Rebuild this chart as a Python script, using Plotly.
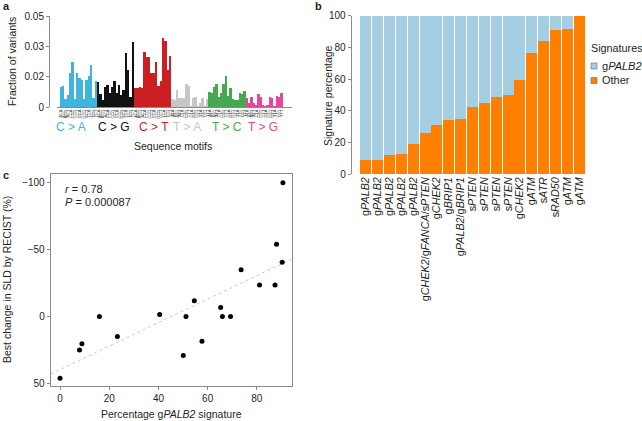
import numpy as np
import plotly.graph_objects as go

W, H = 642, 421
def px(x): return x / W
def py(y): return 1 - y / H

# ---------------- Panel a data ----------------
mut_types = ["C > A", "C > G", "C > T", "T > A", "T > C", "T > G"]
mut_colors = ["#3fb4de", "#111111", "#cc1f24", "#c6c6c6", "#45a952", "#e7469b"]
ref_bases = ["C", "C", "C", "T", "T", "T"]
bases = ["A", "C", "G", "T"]
vals_CA = [0.0108, 0.0117, 0.0042, 0.0068, 0.0189, 0.0250, 0.0043, 0.0185,
           0.0160, 0.0146, 0.0046, 0.0151, 0.0171, 0.0231, 0.0047, 0.0143]
vals_CG = [0.0137, 0.0071, 0.0038, 0.0108, 0.0119, 0.0075, 0.0108, 0.0145,
           0.0075, 0.0119, 0.0064, 0.0093, 0.0296, 0.0203, 0.0053, 0.0355]
vals_CT = [0.0106, 0.0106, 0.0108, 0.0103, 0.0300, 0.0277, 0.0277, 0.0185,
           0.0185, 0.0249, 0.0115, 0.0143, 0.0377, 0.0363, 0.0203, 0.0280]
vals_TA = [0.0044, 0.0038, 0.0092, 0.0047, 0.0048, 0.0047, 0.0129, 0.0118,
           0.0004, 0.0049, 0.0054, 0.0004, 0.0024, 0.0049, 0.0004, 0.0042]
vals_TC = [0.0084, 0.0079, 0.0110, 0.0124, 0.0056, 0.0078, 0.0128, 0.0168,
           0.0060, 0.0106, 0.0046, 0.0041, 0.0039, 0.0078, 0.0073, 0.0089]
vals_TG = [0.0048, 0.0024, 0.0053, 0.0020, 0.0007, 0.0071, 0.0053, 0.0013,
           0.0002, 0.0011, 0.0053, 0.0048, 0.0002, 0.0060, 0.0057, 0.0075]
vals_a = [vals_CA, vals_CG, vals_CT, vals_TA, vals_TC, vals_TG]
ytick_a_text = ["0", "0.02", "0.03", "0.05"]
group_label_px = [71, 114, 154, 187, 227, 263]

# ---------------- Panel b data ----------------
samples_b = ["g<i>PALB2</i>", "g<i>PALB2</i>", "g<i>PALB2</i>", "g<i>PALB2</i>", "g<i>PALB2</i>",
             "g<i>CHEK2</i>/g<i>FANCA</i>/s<i>PTEN</i>", "g<i>CHEK2</i>", "g<i>BRIP1</i>",
             "g<i>PALB2</i>/g<i>BRIP1</i>", "s<i>PTEN</i>", "s<i>PTEN</i>", "s<i>PTEN</i>",
             "s<i>PTEN</i>", "g<i>CHEK2</i>", "g<i>ATM</i>", "s<i>ATR</i>", "s<i>RAD50</i>",
             "g<i>ATM</i>", "g<i>ATM</i>"]
other_pct = [9.0, 9.1, 11.8, 12.4, 18.7, 26.1, 30.7, 33.9, 34.5, 42.1, 45.1, 48.4,
             49.7, 59.4, 76.4, 84.0, 91.2, 91.8, 100.0]
palb2_pct = [100 - v for v in other_pct]
legend_names = ["g<i>PALB2</i>", "Other"]
legend_colors = ["#a6cee3", "#ff7f00"]

# ---------------- Panel c data ----------------
sig_x = [0, 7.9, 8.9, 16.0, 23.3, 40.5, 50.1, 51.2, 54.6, 57.7, 65.3, 66.0, 69.3,
         73.6, 81.1, 87.4, 88.0, 90.3, 90.6]
sld_y = [46.2, 25.0, 20.5, 0, 15.0, -1.5, 29.2, 0, -11.7, 18.5, -6.7, 0, 0,
         -35.0, -23.5, -23.5, -54.0, -40.5, -100.0]

TXT = "#231f20"
AX = "#8a8a8a"
FONT = "Liberation Sans, Arial, sans-serif"

fig = go.Figure()

# Panel a bars
ticktext_a = []
for gi, (vals, col, ref) in enumerate(zip(vals_a, mut_colors, ref_bases)):
    xs = list(range(gi * 16, gi * 16 + 16))
    fig.add_trace(go.Bar(x=xs, y=vals, marker=dict(color=col, line=dict(width=0)),
                         width=0.8, showlegend=False, xaxis="x", yaxis="y"))
    ticktext_a += [f"{a}{ref}{b}" for a in bases for b in bases]

# Panel b stacked bars
xb = list(range(len(samples_b)))
fig.add_trace(go.Bar(x=xb, y=other_pct, marker=dict(color=legend_colors[1], line=dict(width=0)),
                     width=0.93, showlegend=False, xaxis="x2", yaxis="y2"))
fig.add_trace(go.Bar(x=xb, y=palb2_pct, marker=dict(color=legend_colors[0], line=dict(width=0)),
                     width=0.93, showlegend=False, xaxis="x2", yaxis="y2"))

# Panel c scatter + fit
slope, intercept = np.polyfit(sig_x, sld_y, 1)
xr = [-3.8, 94.3]
fig.add_trace(go.Scatter(x=xr, y=[intercept + slope * v for v in xr], mode="lines",
                         line=dict(color="#c8c8c8", width=1, dash="dot"),
                         showlegend=False, xaxis="x3", yaxis="y3"))
fig.add_trace(go.Scatter(x=sig_x, y=sld_y, mode="markers",
                         marker=dict(color="black", size=5),
                         showlegend=False, xaxis="x3", yaxis="y3"))

tickfont = dict(family=FONT, size=10, color=TXT)
common = dict(showgrid=False, zeroline=False, automargin=False)

fig.update_layout(
    template="none",
    width=W, height=H, margin=dict(l=0, r=0, t=0, b=0, pad=0), autosize=False,
    paper_bgcolor="white", plot_bgcolor="white", showlegend=False,
    barmode="stack", font=dict(family=FONT, color=TXT),
    xaxis=dict(domain=[px(57), px(292)], range=[-1.79, 99.37], anchor="y",
               tickvals=list(range(96)), ticktext=ticktext_a, tickangle=-90,
               tickfont=dict(family=FONT, size=4, color="#555"), ticks="", ticklen=0,
               showline=True, linecolor=AX, linewidth=1, **common),
    yaxis=dict(domain=[py(107), py(16)], range=[0, 0.05], anchor="free", position=px(49),
               tickvals=[0, 0.05 / 3, 0.1 / 3, 0.05], ticktext=ytick_a_text,
               ticks="outside", ticklen=3, tickcolor=AX, tickfont=tickfont,
               showline=True, linecolor=AX, linewidth=1, **common),
    xaxis2=dict(domain=[px(360), px(585)], range=[-0.5, len(samples_b) - 0.5], anchor="y2",
                tickvals=xb, ticktext=samples_b, tickangle=-90,
                tickfont=dict(family=FONT, size=10.8, color=TXT),
                ticks="", showline=False, **common),
    yaxis2=dict(domain=[py(174), py(15.7)], range=[0, 100], anchor="free", position=px(350.7),
                tickvals=[0, 20, 40, 60, 80, 100], ticks="outside", ticklen=3, tickcolor=AX,
                tickfont=tickfont, showline=True, linecolor=AX, linewidth=1, **common),
    xaxis3=dict(domain=[px(50.7), px(292)], range=xr, anchor="y3",
                tickvals=[0, 20, 40, 60, 80], ticks="outside", ticklen=3, tickcolor=AX,
                tickfont=tickfont, showline=True, mirror=True, linecolor=AX, linewidth=1,
                **common),
    yaxis3=dict(domain=[py(386), py(174.3)], range=[52, -106.3], anchor="x3",
                tickvals=[-100, -50, 0, 50], ticks="outside", ticklen=3, tickcolor=AX,
                tickfont=tickfont, showline=True, mirror=True, linecolor=AX, linewidth=1,
                **common),
)

ann = []
shapes = []
def add_text(text, x, y, size=10.5, color=TXT, angle=0, xanchor="center", yanchor="middle"):
    ann.append(dict(text=text, x=px(x), y=py(y), xref="paper", yref="paper",
                    showarrow=False, textangle=angle, xanchor=xanchor, yanchor=yanchor,
                    font=dict(family=FONT, size=size, color=color)))

for lab, col, xpos in zip(mut_types, mut_colors, group_label_px):
    add_text(lab, xpos, 127, size=12, color=col)
add_text("Fraction of variants", 12, 62, angle=-90)
add_text("Sequence motifs", 173, 146)
add_text("Signature percentage", 328, 95, angle=-90)
add_text("Best change in SLD by RECIST (%)", 7, 280, angle=-90)
add_text("Percentage g<i>PALB2</i> signature", 172, 414)
add_text("<i>r</i> = 0.78", 63, 189, size=11, xanchor="left")
add_text("<i>P</i> = 0.000087", 63, 202, size=11, xanchor="left")
add_text("<b>a</b>", 1, 6, size=11, xanchor="left")
add_text("<b>b</b>", 313, 6, size=11, xanchor="left")
add_text("<b>c</b>", 1, 175, size=11, xanchor="left")

# legend (manual)
add_text("Signatures", 589, 48, size=10.8, xanchor="left")
for i, (name, col) in enumerate(zip(legend_names, legend_colors)):
    yc = 66 + i * 14.5
    shapes.append(dict(type="rect", xref="paper", yref="paper",
                       x0=px(591), x1=px(597), y0=py(yc + 3), y1=py(yc - 3),
                       fillcolor=col, line=dict(color="#777", width=0.7)))
    add_text(name, 599.5, yc, size=11, xanchor="left")

fig.update_layout(annotations=ann, shapes=shapes)

fig.write_html("out.html", config={"displayModeBar": False},
               post_script="document.body.style.margin='0';document.body.style.overflow='hidden';")
